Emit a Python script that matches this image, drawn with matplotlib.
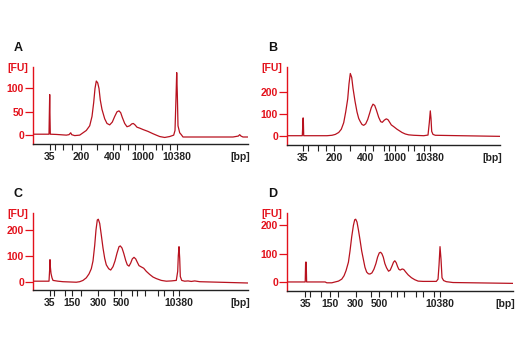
import matplotlib
matplotlib.use("Agg")
import matplotlib.pyplot as plt

plt.rcParams["font.family"] = ["Liberation Sans Narrow", "Liberation Sans", "DejaVu Sans"]
plt.rcParams["font.weight"] = "bold"

TRACE = "#b8121f"
AXRED = "#e3111b"

# ladder sizes shown on the x axis
ladder = [35, 50, 100, 150, 200, 300, 400, 500, 600, 700, 1000, 2000, 3000, 7000, 10380]

# migration position of each ladder band, per panel
ladder_pos_a = [16.7, 21.7, 30, 39.3, 48.3, 64.3, 80, 86.7, 95, 101.7, 110, 122.7, 129, 137.3, 144]
ladder_pos_b = [16, 21, 30.7, 39, 47.3, 63.3, 78.3, 86, 96.7, 101.7, 108.3, 121, 126.7, 136.7, 143.3]
ladder_pos_c = [16.7, 21, 32.3, 39.3, 48.3, 65, 80.7, 88.3, 99.3, 104.3, 112.3, 125, 131, 140, 145.7]
ladder_pos_d = [18.3, 23.3, 34, 42.7, 51.7, 69, 84.3, 92.7, 104, 110.7, 117.3, 130, 136.7, 147.3, 153.3]

labels_ab = [35, 200, 400, 1000, 10380]
labels_cd = [35, 150, 300, 500, 10380]

# electropherogram traces (migration, fluorescence units)
pos_a = [0, 16, 16.3, 16.7, 17, 17.3, 23.3, 33.3, 36, 37.7, 38.7, 41.7, 46.7, 50, 53.3, 56.7,
         59, 60.7, 62, 63.3, 64.7, 66, 67.3, 69, 71.7, 74, 76.7, 79.3, 81.7, 84, 86, 87.7,
         89.3, 91.7, 94, 96.7, 98.7, 100.3, 102, 104, 106.7, 110, 115, 120, 123.3, 126.7,
         131.7, 136.7, 140.7, 142, 143, 143.7, 144.3, 145, 146.7, 148.3, 150, 200, 205.3,
         206.7, 208, 210, 215]
fu_a = [2, 2, 40, 87, 40, 2, 1.5, 0, 1, 5, 1, -1, 0, 5, 10, 20,
        40, 70, 100, 116, 112, 100, 75, 55, 35, 25, 22, 28, 40, 50, 52, 48,
        38, 25, 18, 20, 24, 25, 22, 17, 15, 12, 8, 3, 0, -3,
        -5, -3, 0, 10, 80, 134, 90, 20, 5, 1, -4, -4, -2,
        1, -2, -4, -4]

pos_b = [0, 15.3, 15.7, 16, 16.3, 16.7, 40, 45, 48.3, 51.7, 54.3, 56.7, 58.7, 60.7, 62, 63.3,
         64.7, 66, 68, 70, 71.7, 73.3, 75, 76.7, 78.7, 80.7, 82.7, 84.3, 86, 87.7, 89.3,
         91.7, 93.7, 95.3, 97.3, 99.3, 101, 102.7, 104.3, 106.7, 110, 112.7, 115, 118.3,
         121.7, 126.7, 136.7, 141, 142.3, 143.3, 144, 144.7, 146, 148.3, 173.3, 213.3]
fu_b = [0, 0, 40, 82, 82, 0, 0, 2, 6, 15, 30, 60, 110, 170, 240, 288,
        270, 220, 160, 110, 80, 65, 52, 48, 55, 75, 105, 130, 146, 140, 120,
        85, 65, 62, 72, 78, 74, 62, 50, 42, 30, 22, 15, 8,
        4, 2, 0, 3, 60, 115, 80, 20, 6, 2, 0, -3]

pos_c = [0, 16, 16.7, 17, 17.3, 18, 19, 20, 25, 30, 43.3, 46.7, 50, 53.3, 56, 58.3, 60,
         61.7, 63, 64.3, 65.3, 66.7, 68.3, 70, 71.7, 73.3, 75.7, 77.7, 80, 82, 84, 86,
         87.3, 89, 90.7, 92.7, 94.3, 96, 97.7, 99.3, 101, 102.7, 104.3, 106, 108.3, 110.7,
         113.3, 116.7, 120, 123.3, 128.3, 133.3, 138.3, 143.3, 144.7, 145.3, 146, 146.7,
         147.3, 148.7, 151.7, 155, 158.3, 161.7, 166.7, 215]
fu_c = [2, 2, 50, 85, 60, 32, 15, 5, 2, 0, -2, 0, 5, 15, 30, 50, 80,
        140, 200, 238, 241, 225, 180, 130, 90, 65, 50, 45, 58, 80, 110, 135,
        138, 130, 110, 82, 65, 60, 72, 88, 94, 88, 75, 62, 57, 52,
        40, 28, 18, 12, 5, 2, 3, 5, 40, 100, 135, 90,
        20, 5, 2, 3, 1, 3, 0, -5]

pos_d = [0, 18.3, 18.7, 19.3, 19.7, 38.3, 40, 45, 48.3, 51.7, 55, 57.3, 59.3, 61.7, 63.3,
         65, 66.7, 68, 69, 70.3, 71.7, 73.3, 75, 76.7, 78.3, 80, 81.7, 83.3, 85.3, 87.3,
         89.3, 91, 92.7, 94, 95.3, 96.7, 98.3, 100, 102, 103.7, 105.3, 107, 108.3, 109.7,
         111, 112.3, 113.7, 115.7, 117.3, 119.3, 121.7, 125, 128.3, 131.7, 136.7, 150,
         151.7, 152.7, 153.7, 154.7, 155.7, 157.3, 160, 166.7, 226.7]
fu_d = [0, 0, 70, 70, 0, 0, -3, -3, 0, 3, 10, 22, 40, 70, 110,
        160, 200, 220, 222, 212, 185, 150, 110, 80, 52, 35, 29, 28, 32, 45,
        65, 88, 103, 105, 100, 88, 65, 50, 38, 42, 55, 70, 75, 68,
        55, 45, 42, 46, 44, 35, 25, 15, 8, 3, 2, 2,
        10, 60, 125, 80, 15, 5, 1, -2, -5]

W, H = 520, 350
fig = plt.figure(figsize=(W / 100, H / 100), dpi=100)


def px(x, y):
    return x / W, 1 - y / H


panels = [
    # letter, pos, fu, ladder positions, labelled sizes, yticks, ylim, xmax, box (l, t, r, b in px)
    ("A", pos_a, fu_a, ladder_pos_a, labels_ab, [0, 50, 100], (-19, 146), 215, (33, 67, 248, 144)),
    ("B", pos_b, fu_b, ladder_pos_b, labels_ab, [0, 100, 200], (-43, 318), 213, (287, 67, 500, 145)),
    ("C", pos_c, fu_c, ladder_pos_c, labels_cd, [0, 100, 200], (-32, 265), 215, (33, 213, 248, 290)),
    ("D", pos_d, fu_d, ladder_pos_d, labels_cd, [0, 100, 200], (-32, 244), 227, (287, 213, 513, 291)),
]

for letter, xs, ys, lpos, shown, yt, ylim, xmax, (l, t, r, b) in panels:
    ax = fig.add_axes([l / W, 1 - b / H, (r - l) / W, (b - t) / H])
    ax.plot(xs, ys, color=TRACE, lw=0.9)
    ax.set_xlim(0, xmax)
    ax.set_ylim(*ylim)
    ax.spines[["top", "right"]].set_visible(False)
    ax.spines["left"].set_color(AXRED)
    ax.spines["left"].set_linewidth(1.0)
    ax.spines["bottom"].set_color("#222222")
    ax.spines["bottom"].set_linewidth(1.0)
    ax.set_xticks(lpos)
    ax.set_xticklabels([str(s) if s in shown else "" for s in ladder])
    ax.tick_params(axis="x", length=4, width=0.8, color="#222222", pad=2,
                   labelsize=7.5, labelcolor="#222222")
    ax.set_yticks(yt)
    ax.tick_params(axis="y", length=5.5, width=0.9, color=AXRED, pad=1,
                   labelsize=7.5, labelcolor=AXRED)
    ax.patch.set_alpha(0)

    fig.text(*px(l - 19, t - 19), letter, fontsize=9, fontweight="bold",
             color="#111111", ha="left", va="center")
    fig.text(*px(l - 26, t + 1), "[FU]", fontsize=7.5, fontweight="bold",
             color=AXRED, ha="left", va="center")
    fig.text(*px(r + 2, b + 13), "[bp]", fontsize=7.5, fontweight="bold",
             color="#222222", ha="right", va="center")

fig.savefig("out.png", dpi=100)
